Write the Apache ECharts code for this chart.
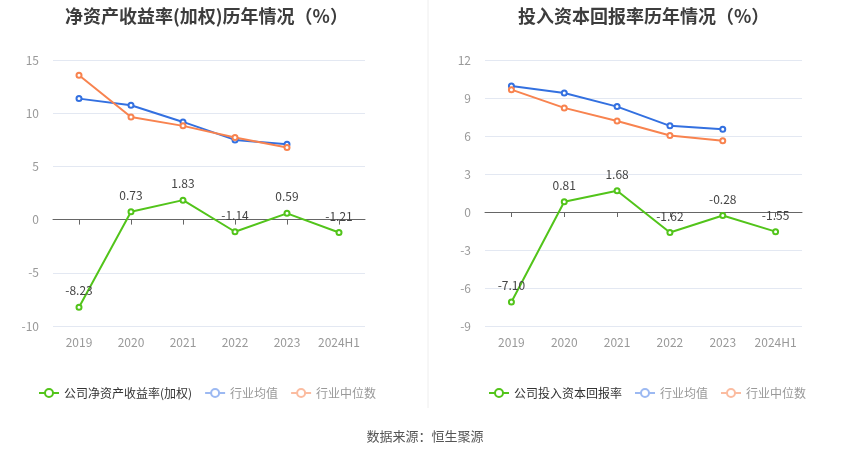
<!DOCTYPE html>
<html>
<head>
<meta charset="utf-8">
<script src="https://cdn.jsdelivr.net/npm/echarts@6/dist/echarts.min.js"></script>
<style>
  html, body { margin: 0; padding: 0; background: #fff; }
  #main { width: 850px; height: 459px; }
</style>
</head>
<body>
<div id="main"></div>
<script>
var years = ['2019', '2020', '2021', '2022', '2023', '2024H1'];

// 净资产收益率(加权)
var roeCompany = [-8.23, 0.73, 1.83, -1.14, 0.59, -1.21];
var roeAvg = [11.37, 10.75, 9.18, 7.49, 7.09];
var roeMedian = [13.57, 9.65, 8.81, 7.71, 6.77];

// 投入资本回报率
var roicCompany = [-7.10, 0.81, 1.68, -1.62, -0.28, -1.55];
var roicAvg = [9.95, 9.40, 8.32, 6.80, 6.54];
var roicMedian = [9.66, 8.22, 7.19, 6.04, 5.62];

var GREEN = '#52c41a', BLUE = '#3370e0', ORANGE = '#f8834f';

var chart = echarts.init(document.getElementById('main'));

function zeroAxis(gi) {
  return {
    type: 'category', gridIndex: gi, data: years,
    axisLine: { onZero: true, lineStyle: { color: '#666' } },
    axisTick: { show: true, alignWithLabel: true, interval: 0, length: 5, lineStyle: { color: '#666' } },
    axisLabel: { show: false }
  };
}
function labelAxis(gi) {
  return {
    type: 'category', gridIndex: gi, data: years, position: 'bottom',
    axisLine: { show: false, onZero: false },
    axisTick: { show: false },
    axisLabel: { color: '#999', fontSize: 12, margin: 10, interval: 0 }
  };
}
function valAxis(gi, min, max, step) {
  return {
    type: 'value', gridIndex: gi, min: min, max: max, interval: step,
    axisLine: { show: false }, axisTick: { show: false },
    axisLabel: { color: '#999', fontSize: 12, margin: 14 },
    splitLine: { lineStyle: { color: '#e3e8f2' } }
  };
}
function line(name, data, color, gi, withLabel) {
  return {
    name: name, type: 'line', xAxisIndex: gi * 2, yAxisIndex: gi,
    data: data, symbol: 'emptyCircle', symbolSize: 5,
    lineStyle: { color: color, width: 2 },
    itemStyle: { color: color, borderWidth: 2 },
    label: {
      show: withLabel, position: 'top', color: '#444', fontSize: 12, distance: 7,
      formatter: function (p) { return p.value.toFixed(2); }
    },
    z: withLabel ? 3 : 2
  };
}
function legend(left, first) {
  return {
    left: left, top: 382, itemWidth: 20, itemHeight: 10, itemGap: 12,
    textStyle: { fontSize: 12, color: '#999' },
    data: [
      { name: first, textStyle: { color: '#333' } },
      { name: '行业均值', itemStyle: { color: '#9cb9f2' }, lineStyle: { color: '#9cb9f2' } },
      { name: '行业中位数', itemStyle: { color: '#fbbca0' }, lineStyle: { color: '#fbbca0' } }
    ]
  };
}

var option = {
  backgroundColor: '#fff',
  animation: false,
  textStyle: { fontFamily: 'Noto Sans CJK SC, sans-serif' },
  title: [
    { text: '净资产收益率(加权)历年情况（%）', left: 60, top: 2,
      textStyle: { fontSize: 18, fontWeight: 'bold', color: '#3d3d3d' } },
    { text: '投入资本回报率历年情况（%）', left: 513, top: 2,
      textStyle: { fontSize: 18, fontWeight: 'bold', color: '#3d3d3d' } }
  ],
  legend: [legend(33, '公司净资产收益率(加权)'), legend(483, '公司投入资本回报率')],
  grid: [
    { left: 53, top: 60, width: 312, height: 266 },
    { left: 485, top: 60, width: 317, height: 266 }
  ],
  xAxis: [zeroAxis(0), labelAxis(0), zeroAxis(1), labelAxis(1)],
  yAxis: [valAxis(0, -10, 15, 5), valAxis(1, -9, 12, 3)],
  series: [
    line('行业均值', roeAvg, BLUE, 0, false),
    line('行业中位数', roeMedian, ORANGE, 0, false),
    line('公司净资产收益率(加权)', roeCompany, GREEN, 0, true),
    line('行业均值', roicAvg, BLUE, 1, false),
    line('行业中位数', roicMedian, ORANGE, 1, false),
    line('公司投入资本回报率', roicCompany, GREEN, 1, true)
  ],
  graphic: [
    { type: 'line', shape: { x1: 428, y1: 0, x2: 428, y2: 408 },
      style: { stroke: '#eeeeee', lineWidth: 1 } },
    { type: 'text', left: 'center', top: 430,
      style: { text: '数据来源：恒生聚源', fill: '#555', fontSize: 13, fontFamily: 'Noto Sans CJK SC' } }
  ]
};

chart.setOption(option);
</script>
</body>
</html>
